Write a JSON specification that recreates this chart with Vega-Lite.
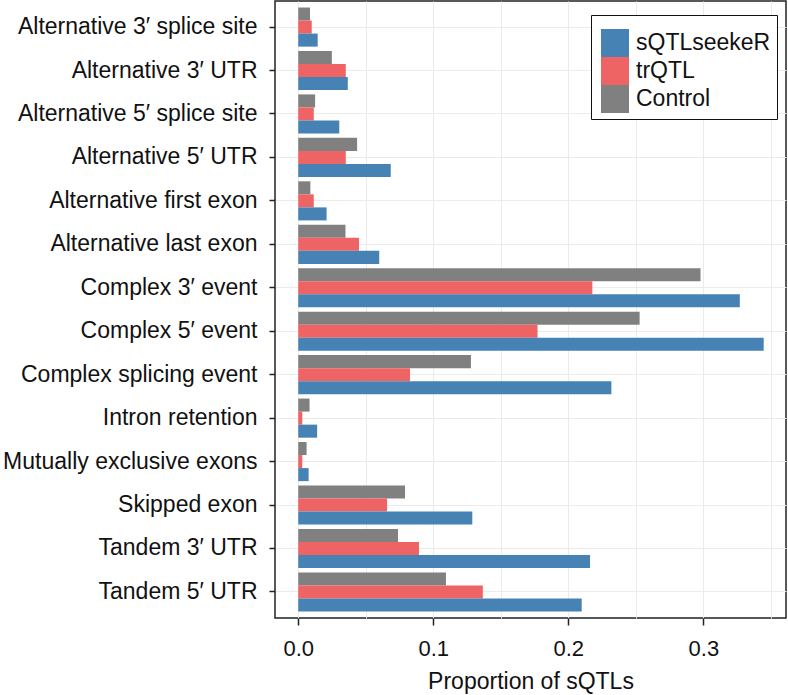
{
  "$schema": "https://vega.github.io/schema/vega-lite/v6.json",
  "width": 511,
  "height": 617,
  "autosize": {"type": "none"},
  "padding": {"left": 275, "top": 1, "right": 2, "bottom": 77},
  "background": "white",
  "config": {
    "font": "Liberation Sans",
    "view": {"stroke": "#222222", "strokeWidth": 1.5}
  },
  "data": {
    "values": [
      {"event": "Alternative 3′ splice site", "series": "Control", "value": 0.0087},
      {"event": "Alternative 3′ splice site", "series": "trQTL", "value": 0.0100},
      {"event": "Alternative 3′ splice site", "series": "sQTLseekeR", "value": 0.0144},
      {"event": "Alternative 3′ UTR", "series": "Control", "value": 0.0249},
      {"event": "Alternative 3′ UTR", "series": "trQTL", "value": 0.0352},
      {"event": "Alternative 3′ UTR", "series": "sQTLseekeR", "value": 0.0367},
      {"event": "Alternative 5′ splice site", "series": "Control", "value": 0.0125},
      {"event": "Alternative 5′ splice site", "series": "trQTL", "value": 0.0115},
      {"event": "Alternative 5′ splice site", "series": "sQTLseekeR", "value": 0.0304},
      {"event": "Alternative 5′ UTR", "series": "Control", "value": 0.0436},
      {"event": "Alternative 5′ UTR", "series": "trQTL", "value": 0.0352},
      {"event": "Alternative 5′ UTR", "series": "sQTLseekeR", "value": 0.0685},
      {"event": "Alternative first exon", "series": "Control", "value": 0.0090},
      {"event": "Alternative first exon", "series": "trQTL", "value": 0.0115},
      {"event": "Alternative first exon", "series": "sQTLseekeR", "value": 0.0210},
      {"event": "Alternative last exon", "series": "Control", "value": 0.0350},
      {"event": "Alternative last exon", "series": "trQTL", "value": 0.0450},
      {"event": "Alternative last exon", "series": "sQTLseekeR", "value": 0.0600},
      {"event": "Complex 3′ event", "series": "Control", "value": 0.2979},
      {"event": "Complex 3′ event", "series": "trQTL", "value": 0.2178},
      {"event": "Complex 3′ event", "series": "sQTLseekeR", "value": 0.3270},
      {"event": "Complex 5′ event", "series": "Control", "value": 0.2528},
      {"event": "Complex 5′ event", "series": "trQTL", "value": 0.1772},
      {"event": "Complex 5′ event", "series": "sQTLseekeR", "value": 0.3447},
      {"event": "Complex splicing event", "series": "Control", "value": 0.1279},
      {"event": "Complex splicing event", "series": "trQTL", "value": 0.0828},
      {"event": "Complex splicing event", "series": "sQTLseekeR", "value": 0.2319},
      {"event": "Intron retention", "series": "Control", "value": 0.0084},
      {"event": "Intron retention", "series": "trQTL", "value": 0.0030},
      {"event": "Intron retention", "series": "sQTLseekeR", "value": 0.0140},
      {"event": "Mutually exclusive exons", "series": "Control", "value": 0.0062},
      {"event": "Mutually exclusive exons", "series": "trQTL", "value": 0.0030},
      {"event": "Mutually exclusive exons", "series": "sQTLseekeR", "value": 0.0077},
      {"event": "Skipped exon", "series": "Control", "value": 0.0791},
      {"event": "Skipped exon", "series": "trQTL", "value": 0.0658},
      {"event": "Skipped exon", "series": "sQTLseekeR", "value": 0.1289},
      {"event": "Tandem 3′ UTR", "series": "Control", "value": 0.0739},
      {"event": "Tandem 3′ UTR", "series": "trQTL", "value": 0.0894},
      {"event": "Tandem 3′ UTR", "series": "sQTLseekeR", "value": 0.2161},
      {"event": "Tandem 5′ UTR", "series": "Control", "value": 0.1094},
      {"event": "Tandem 5′ UTR", "series": "trQTL", "value": 0.1367},
      {"event": "Tandem 5′ UTR", "series": "sQTLseekeR", "value": 0.2099}
    ]
  },
  "mark": {"type": "bar"},
  "encoding": {
    "y": {
      "field": "event",
      "type": "nominal",
      "sort": null,
      "scale": {"paddingInner": 0, "paddingOuter": 0.1},
      "axis": {
        "title": null,
        "grid": true,
        "gridColor": "#ebebeb",
        "gridWidth": 1,
        "domain": false,
        "tickColor": "#222222",
        "tickWidth": 1.5,
        "tickSize": 6,
        "labelFontSize": 23,
        "labelColor": "#111111",
        "labelPadding": 12,
        "labelLimit": 300
      }
    },
    "yOffset": {
      "field": "series",
      "type": "nominal",
      "sort": ["Control", "trQTL", "sQTLseekeR"],
      "scale": {"paddingInner": 0, "paddingOuter": 0.1667}
    },
    "x": {
      "field": "value",
      "type": "quantitative",
      "scale": {"domain": [-0.0172, 0.3612], "nice": false, "zero": false},
      "axis": {
        "title": "Proportion of sQTLs",
        "titleFontSize": 23,
        "titleFontWeight": "normal",
        "titleColor": "#111111",
        "titlePadding": 11,
        "values": [0, 0.05, 0.1, 0.15, 0.2, 0.25, 0.3, 0.35],
        "labelExpr": "abs(datum.value*10 - round(datum.value*10)) < 0.001 ? format(datum.value, '.1f') : ''",
        "grid": true,
        "gridColor": "#ebebeb",
        "gridWidth": 1,
        "domain": false,
        "tickColor": {"condition": {"test": "abs(datum.value*10 - round(datum.value*10)) < 0.001", "value": "#222222"}, "value": "transparent"},
        "tickWidth": 1.5,
        "tickSize": 7,
        "labelFontSize": 22,
        "labelColor": "#111111",
        "labelPadding": 13,
        "labelFlush": false
      }
    },
    "color": {
      "field": "series",
      "type": "nominal",
      "scale": {
        "domain": ["sQTLseekeR", "trQTL", "Control"],
        "range": ["#4682b4", "#ee6363", "#808080"]
      },
      "legend": {
        "title": " ",
        "titleFontSize": 8,
        "titlePadding": 0,
        "orient": "none",
        "legendX": 316,
        "legendY": 14,
        "symbolType": "square",
        "symbolSize": 784,
        "symbolStrokeWidth": 0,
        "symbolOpacity": 1,
        "symbolOffset": 4,
        "labelFontSize": 23,
        "labelColor": "#111111",
        "labelOffset": 7,
        "rowPadding": 0,
        "padding": 6,
        "strokeColor": "#111111",
        "fillColor": "white"
      }
    }
  }
}
